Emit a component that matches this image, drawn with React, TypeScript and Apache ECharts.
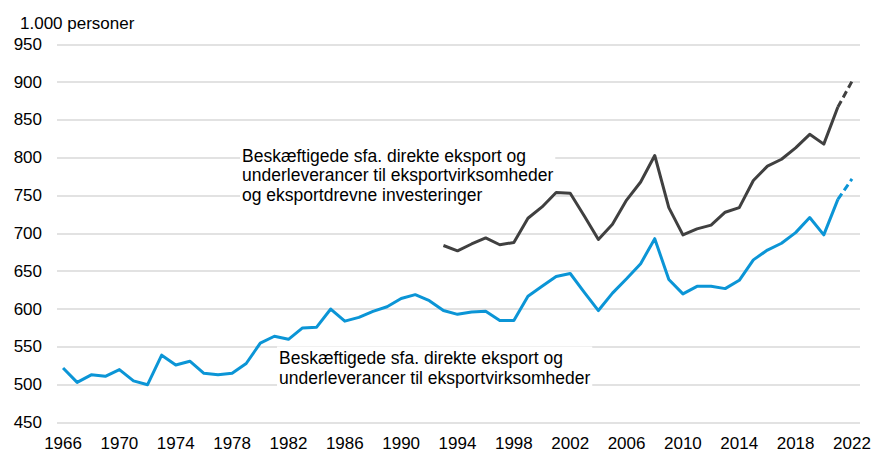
import React, { useEffect, useRef } from "react";
import * as echarts from "echarts";

const years: number[] = [
  1966, 1967, 1968, 1969, 1970, 1971, 1972, 1973, 1974, 1975, 1976, 1977, 1978, 1979,
  1980, 1981, 1982, 1983, 1984, 1985, 1986, 1987, 1988, 1989, 1990, 1991, 1992, 1993,
  1994, 1995, 1996, 1997, 1998, 1999, 2000, 2001, 2002, 2003, 2004, 2005, 2006, 2007,
  2008, 2009, 2010, 2011, 2012, 2013, 2014, 2015, 2016, 2017, 2018, 2019, 2020, 2021, 2022,
];

// Beskæftigede sfa. direkte eksport og underleverancer (1966-2022)
const directExport: number[] = [
  522, 503, 513, 511, 520, 505, 500, 539, 526, 531, 515, 513, 515, 528,
  555, 564, 560, 575, 576, 600, 584, 589, 597, 603, 614, 619, 611, 598,
  593, 596, 597, 585, 585, 617, 630, 643, 647, 622, 598, 621, 640, 660,
  693, 639, 620, 630, 630, 627, 638, 665, 678, 687, 701, 721, 698, 745, 772,
];

// Inkl. eksportdrevne investeringer (1993-2022)
const inclInvestYears: number[] = [
  1993, 1994, 1995, 1996, 1997, 1998, 1999, 2000, 2001, 2002, 2003, 2004, 2005, 2006,
  2007, 2008, 2009, 2010, 2011, 2012, 2013, 2014, 2015, 2016, 2017, 2018, 2019, 2020, 2021, 2022,
];
const inclInvest: number[] = [
  684, 677, 686, 694, 685, 688, 720, 735, 754, 753, 723, 692, 712, 744,
  768, 803, 734, 698, 706, 711, 728, 734, 770, 789, 798, 813, 831, 818, 867, 901,
];

const xTickLabels: number[] = [1966, 1970, 1974, 1978, 1982, 1986, 1990, 1994, 1998, 2002, 2006, 2010, 2014, 2018, 2022];

const unitLabel = "1.000 personer";
const annotationTop = [
  "Beskæftigede sfa. direkte eksport og",
  "underleverancer til eksportvirksomheder",
  "og eksportdrevne investeringer",
];
const annotationBottom = [
  "Beskæftigede sfa. direkte eksport og",
  "underleverancer til eksportvirksomheder",
];

const FONT = "'Liberation Sans', Arial, Helvetica, sans-serif";
const BLUE = "#0b95d6";
const DARK = "#404040";

function pairs(xs: number[], ys: number[]): [number, number][] {
  return xs.map((x, i) => [x, ys[i]]);
}

export default function App() {
  const ref = useRef<HTMLDivElement>(null);

  useEffect(() => {
    if (!ref.current) return;
    const chart = echarts.init(ref.current, undefined, { renderer: "svg" });

    const blueAll = pairs(years, directExport);
    const darkAll = pairs(inclInvestYears, inclInvest);
    const blueSolid = blueAll.slice(0, blueAll.length - 1);
    const blueDash = blueAll.slice(blueAll.length - 2);
    const darkSolid = darkAll.slice(0, darkAll.length - 1);
    const darkDash = darkAll.slice(darkAll.length - 2);

    const lineSeries = (data: [number, number][], color: string, dashed: boolean) => ({
      type: "line",
      data,
      showSymbol: false,
      symbol: "none",
      lineStyle: { color, width: 3, type: dashed ? [7, 4] : "solid", cap: "butt", join: "round" },
      z: 5,
      silent: true,
    });

    chart.setOption({
      animation: false,
      backgroundColor: "#ffffff",
      textStyle: { fontFamily: FONT },
      grid: { left: 57, right: 14, top: 44.3, bottom: 27.7, containLabel: false },
      xAxis: {
        type: "value",
        min: 1965.57,
        max: 2022.57,
        axisLine: { show: false },
        axisTick: { show: false },
        splitLine: { show: false },
        axisLabel: {
          customValues: xTickLabels,
          formatter: (v: number) => String(Math.round(v)),
          color: "#000000",
          fontSize: 17,
          fontFamily: FONT,
          margin: 12.5,
        },
      },
      yAxis: {
        type: "value",
        min: 450,
        max: 950,
        interval: 50,
        z: 0,
        axisLine: { show: false },
        axisTick: { show: false },
        splitLine: { show: true, lineStyle: { color: "#d9d9d9", width: 1.5 } },
        axisLabel: {
          color: "#000000",
          fontSize: 17,
          fontFamily: FONT,
          margin: 15,
        },
      },
      series: [
        lineSeries(blueSolid, BLUE, false),
        lineSeries(blueDash, BLUE, true),
        lineSeries(darkSolid, DARK, false),
        lineSeries(darkDash, DARK, true),
      ],
      graphic: [
        {
          type: "text",
          left: 20,
          top: 13.4,
          z: 2,
          style: { text: unitLabel, fill: "#000", font: `17px ${FONT}`, lineHeight: 20 },
        },
        {
          type: "text",
          left: 240,
          top: 144,
          z: 2,
          silent: true,
          style: {
            text: annotationTop.join("\n"),
            fill: "#000",
            font: `17.5px ${FONT}`,
            lineHeight: 19.5,
            backgroundColor: "#ffffff",
            padding: [2, 2, 2, 2],
          },
        },
        {
          type: "text",
          left: 277,
          top: 346.4,
          z: 2,
          silent: true,
          style: {
            text: annotationBottom.join("\n"),
            fill: "#000",
            font: `17.5px ${FONT}`,
            lineHeight: 19.5,
            backgroundColor: "#ffffff",
            padding: [2, 2, 2, 2],
          },
        },
      ],
    });

    return () => chart.dispose();
  }, []);

  return (
    <div
      ref={ref}
      style={{ position: "absolute", left: 0, top: 0, width: 874, height: 452, background: "#fff" }}
    />
  );
}
